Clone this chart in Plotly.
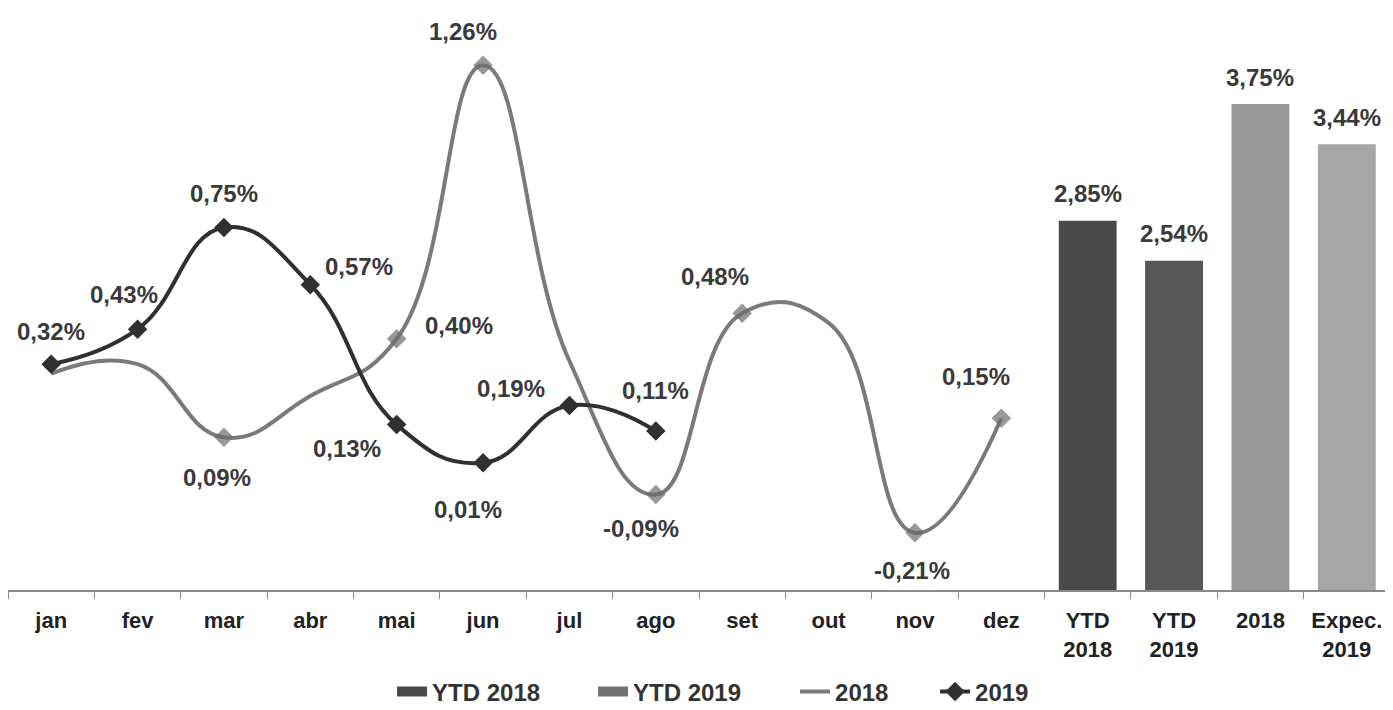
import plotly.graph_objects as go

# ---------------- data ----------------
months = ["jan", "fev", "mar", "abr", "mai", "jun", "jul", "ago", "set", "out", "nov", "dez"]
bar_categories = ["YTD<br>2018", "YTD<br>2019", "2018", "Expec.<br>2019"]
categories = months + bar_categories

ipca_2018 = [0.29, 0.32, 0.09, 0.22, 0.40, 1.26, 0.33, -0.09, 0.48, 0.45, -0.21, 0.15]
ipca_2019 = [0.32, 0.43, 0.75, 0.57, 0.13, 0.01, 0.19, 0.11]
bar_names = ["YTD 2018", "YTD 2019", "2018", "Expec. 2019"]
bar_values = [2.85, 2.54, 3.75, 3.44]

# which 2018 points carry a marker and a label
labeled_2018 = [False, False, True, False, True, True, False, True, True, False, True, True]

# ---------------- style ----------------
FONT = "Liberation Sans, Arial, sans-serif"
LABEL_COLOR = "#3a3a3a"
COL_2018 = "#7a7a7a"
COL_2019 = "#303030"
bar_colors = ["#4a4a4a", "#575757", "#999999", "#a6a6a6"]
legend_bar_colors = ["#4a4a4a", "#727272"]
# label offsets in pixels (xshift, yshift)
off_2019 = [(0, 33), (-14, 35), (0, 34), (49, 18), (-50, -24), (-15, -47), (-58, 17), (0, 40)]
off_2018 = [None, None, (-7, -40), None, (62, 13), (-20, 34), None, (-15, -34),
            (-27, 37), None, (-3, -38), (-25, 42)]
legend_x = [0.2779, 0.4233, 0.5695, 0.6708]
LEGEND_Y = -0.1774


def fmt(v):
    return f"{v:.2f}".replace(".", ",") + "%"


fig = go.Figure()

cat_index = {c: i for i, c in enumerate(categories)}

for name, cat, val, col in zip(bar_names, bar_categories, bar_values, bar_colors):
    fig.add_trace(go.Bar(
        x=[cat], y=[val], name=name, yaxis="y2",
        marker=dict(color=col, line=dict(width=0)),
        width=0.67, showlegend=False,
    ))

fig.add_trace(go.Scatter(
    x=months, y=ipca_2018, name="2018", mode="lines+markers",
    line=dict(color=COL_2018, width=4, shape="spline", smoothing=1.3),
    marker=dict(symbol="diamond", size=[15 if f else 0 for f in labeled_2018],
                color="#6c6c6c", line=dict(width=0)),
    showlegend=False,
))
fig.add_trace(go.Scatter(
    x=months[:len(ipca_2019)], y=ipca_2019, name="2019", mode="lines+markers",
    line=dict(color=COL_2019, width=4, shape="spline", smoothing=1.3),
    marker=dict(symbol="diamond", size=15, color=COL_2019, line=dict(width=0)),
    legend="legend4",
))

# legend proxies (no data): wide swatches for the YTD bars, plain line for 2018
for name, col, lg in zip(bar_names[:2], legend_bar_colors, ["legend", "legend2"]):
    fig.add_trace(go.Scatter(
        x=[None], y=[None], name=name, mode="lines",
        line=dict(color=col, width=12), showlegend=True, legend=lg,
    ))
fig.add_trace(go.Scatter(
    x=[None], y=[None], name="2018", mode="lines",
    line=dict(color=COL_2018, width=4), showlegend=True, legend="legend3",
))

annotations = []
for m, v, o in zip(months, ipca_2019, off_2019):
    annotations.append(dict(x=cat_index[m], y=v, xref="x", yref="y", text=fmt(v),
                            showarrow=False, xshift=o[0], yshift=o[1]))
for m, v, f, o in zip(months, ipca_2018, labeled_2018, off_2018):
    if f:
        annotations.append(dict(x=cat_index[m], y=v, xref="x", yref="y", text=fmt(v),
                                showarrow=False, xshift=o[0], yshift=o[1]))
for c, v in zip(bar_categories, bar_values):
    annotations.append(dict(x=cat_index[c], y=v, xref="x", yref="y2", text=fmt(v),
                            showarrow=False, yshift=27))
for a in annotations:
    a["font"] = dict(family=FONT, size=24, color=LABEL_COLOR, weight="bold")


def legend_cfg(x):
    return dict(orientation="h", x=x, xanchor="left", y=LEGEND_Y, yanchor="middle",
                font=dict(family=FONT, size=24, color="#333333", weight="bold"),
                itemwidth=30, bgcolor="rgba(0,0,0,0)", borderwidth=0)


fig.update_layout(
    width=1385, height=702,
    margin=dict(l=0, r=3, t=7, b=120, autoexpand=False),
    paper_bgcolor="white", plot_bgcolor="white",
    barmode="overlay",
    font=dict(family=FONT, color="#222222"),
    xaxis=dict(
        type="category", categoryorder="array", categoryarray=categories,
        range=[-0.5, len(categories) - 0.5], automargin=False,
        showline=True, linecolor="#8a8a8a", linewidth=1.5,
        ticks="outside", tickson="boundaries", ticklen=7, tickcolor="#8a8a8a",
        tickfont=dict(family=FONT, size=22, color="#222222", weight="bold"),
        showgrid=False, zeroline=False, ticklabelstandoff=10,
    ),
    yaxis=dict(range=[-0.390, 1.418], visible=False, showgrid=False, zeroline=False,
               automargin=False),
    yaxis2=dict(range=[0, 4.437], overlaying="y", side="right", visible=False,
                showgrid=False, zeroline=False, automargin=False),
    legend=legend_cfg(legend_x[0]),
    legend2=legend_cfg(legend_x[1]),
    legend3=legend_cfg(legend_x[2]),
    legend4=legend_cfg(legend_x[3]),
    annotations=annotations,
    showlegend=True,
)

fig.write_html("out.html")
